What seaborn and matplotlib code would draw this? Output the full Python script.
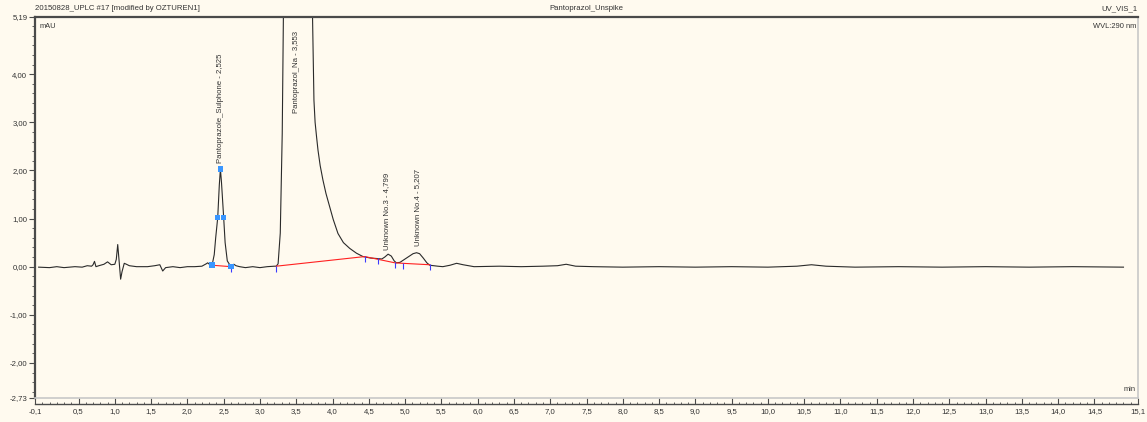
import numpy as np
import pandas as pd
import matplotlib
matplotlib.use("Agg")
import matplotlib.pyplot as plt
import seaborn as sns
from matplotlib.ticker import FixedLocator, FuncFormatter

# ---------------- data ----------------
time_min = [-0.05, 0.10, 0.20, 0.30, 0.45, 0.55, 0.62, 0.68, 0.70, 0.72, 0.74, 0.78,
            0.85, 0.90, 0.95, 1.00, 1.02, 1.04, 1.06, 1.08, 1.10, 1.13, 1.16, 1.20,
            1.30, 1.45, 1.55, 1.62, 1.66, 1.70, 1.80, 1.90, 2.00, 2.10, 2.20, 2.26,
            2.28, 2.31, 2.34, 2.37, 2.39, 2.418, 2.44, 2.455, 2.47, 2.50, 2.52, 2.55,
            2.60, 2.64, 2.67, 2.72, 2.80, 2.90, 3.00, 3.10, 3.20, 3.225, 3.25, 3.28,
            3.307, 3.325, 3.38, 3.52, 3.66, 3.72, 3.744, 3.76, 3.78, 3.80, 3.83,
            3.868, 3.91, 3.96, 4.01, 4.075, 4.15, 4.237, 4.33, 4.42, 4.52, 4.606,
            4.68, 4.72, 4.766, 4.81, 4.85, 4.88, 4.93, 4.98, 5.06, 5.11, 5.158,
            5.20, 5.25, 5.30, 5.34, 5.45, 5.52, 5.62, 5.71, 5.80, 5.95, 6.30, 6.60,
            6.90, 7.10, 7.22, 7.35, 7.60, 8.00, 8.50, 9.00, 9.50, 10.00, 10.40,
            10.60, 10.80, 11.20, 11.80, 12.40, 13.00, 13.60, 14.20, 14.90]
signal_mau = [-0.01, -0.02, 0.00, -0.02, 0.00, -0.01, 0.02, 0.01, 0.04, 0.11, 0.00, 0.02,
              0.05, 0.10, 0.04, 0.05, 0.15, 0.46, 0.10, -0.26, -0.10, 0.07, 0.05, 0.02,
              0.00, 0.00, 0.02, 0.04, -0.09, -0.02, 0.00, -0.02, 0.00, 0.00, 0.01, 0.06,
              0.08, 0.04, 0.03, 0.25, 0.60, 1.02, 1.70, 2.03, 1.75, 1.02, 0.50, 0.12,
              0.00, 0.05, 0.02, 0.00, -0.02, 0.00, -0.02, 0.00, 0.01, 0.01, 0.06, 0.70,
              2.77, 5.50, 12.0, 20.0, 12.0, 5.60, 3.46, 3.00, 2.70, 2.42, 2.10,
              1.80, 1.52, 1.25, 0.98, 0.69, 0.50, 0.38, 0.28, 0.21, 0.18, 0.17,
              0.16, 0.20, 0.26, 0.22, 0.12, 0.08, 0.09, 0.14, 0.22, 0.27, 0.29,
              0.27, 0.18, 0.08, 0.03, 0.01, 0.00, 0.03, 0.07, 0.04, 0.00, 0.01, 0.00,
              0.01, 0.02, 0.05, 0.01, 0.00, -0.01, 0.00, -0.01, 0.00, -0.01, 0.01,
              0.04, 0.01, -0.01, 0.00, -0.01, 0.00, -0.01, 0.00, -0.01]

marker_t = [2.34, 2.418, 2.455, 2.50, 2.60]
marker_v = [0.03, 1.02, 2.03, 1.02, 0.00]

baseline1_t = [2.34, 2.60]
baseline1_v = [0.03, 0.00]
baseline2_t = [3.225, 4.444, 4.86, 4.965, 5.34]
baseline2_v = [0.01, 0.21, 0.08, 0.07, 0.04]

delim_t = [2.60, 3.225, 4.444, 4.62, 4.86, 4.965, 5.34]
delim_v = [0.00, 0.01, 0.21, 0.16, 0.08, 0.07, 0.04]

peak_labels = ["Pantoprazole_Sulphone - 2,525", "Pantoprazol_Na - 3,553",
               "Unknown No.3 - 4,799", "Unknown No.4 - 5,207"]
label_t = [2.455, 3.505, 4.748, 5.176]
label_v = [2.15, 3.19, 0.345, 0.43]

x_major = [-0.1, 0.5, 1.0, 1.5, 2.0, 2.5, 3.0, 3.5, 4.0, 4.5, 5.0, 5.5, 6.0, 6.5, 7.0,
           7.5, 8.0, 8.5, 9.0, 9.5, 10.0, 10.5, 11.0, 11.5, 12.0, 12.5, 13.0, 13.5,
           14.0, 14.5, 15.1]
y_major = [5.19, 4.0, 3.0, 2.0, 1.0, 0.0, -1.0, -2.0, -2.73]

# ---------------- figure ----------------
BG = "#FFFAEF"
W, H = 1147, 422
fig = plt.figure(figsize=(W / 100, H / 100), dpi=100, facecolor=BG)
ax = fig.add_axes([35 / W, 1 - 398 / H, (1138 - 35) / W, (398 - 17) / H])
ax.set_facecolor(BG)
FONT = ["Liberation Sans", "DejaVu Sans"]
TXT = "#333333"

df = pd.DataFrame({"t": time_min, "v": signal_mau})
sns.lineplot(data=df, x="t", y="v", ax=ax, color="#2a2a2a", linewidth=0.8,
             sort=False, estimator=None)

sns.lineplot(x=baseline1_t, y=baseline1_v, ax=ax, color="#ff2020", linewidth=0.8,
             sort=False, estimator=None)
sns.lineplot(x=baseline2_t, y=baseline2_v, ax=ax, color="#ff2020", linewidth=0.8,
             sort=False, estimator=None)

ax.scatter(delim_t, [v - 0.05 for v in delim_v], marker="|", s=18, color="#3b3bff",
           linewidths=0.8, zorder=4)
sns.scatterplot(x=marker_t, y=marker_v, ax=ax, marker="s", s=16, color="#3a96ff",
                edgecolor="none", zorder=5)

for lab, t, v in zip(peak_labels, label_t, label_v):
    ax.text(t, v, lab, rotation=90, ha="center", va="bottom", fontsize=5.6,
            family=FONT, color=TXT)

ax.set_xlim(-0.1, 15.1)
ax.set_ylim(-2.73, 5.19)
ax.set_xlabel("")
ax.set_ylabel("")

# spines / frame
for s in ["top", "left"]:
    ax.spines[s].set_color("#4a4a4a")
    ax.spines[s].set_linewidth(1.6)
ax.spines["right"].set_color("#c8c8c8")
ax.spines["right"].set_linewidth(1.2)
ax.spines["bottom"].set_position(("outward", 4.5))
ax.spines["bottom"].set_color("#4a4a4a")
ax.spines["bottom"].set_linewidth(1.0)
ax.axhline(-2.73, color="#c8c8c8", linewidth=1.2, clip_on=False, zorder=6)

# ticks
ax.xaxis.set_major_locator(FixedLocator(x_major))
ax.xaxis.set_minor_locator(FixedLocator(list(np.arange(0.0, 15.05, 0.1))))
ax.xaxis.set_major_formatter(FuncFormatter(lambda v, p: f"{v:.1f}".replace(".", ",")))
ax.yaxis.set_major_locator(FixedLocator(y_major))
ax.yaxis.set_minor_locator(FixedLocator(list(np.arange(-2.6, 5.1, 0.2))))
ax.yaxis.set_major_formatter(FuncFormatter(lambda v, p: f"{v:.2f}".replace(".", ",")))

ax.tick_params(axis="x", which="major", direction="in", length=4, width=0.8,
               color="#4a4a4a", labelsize=5.6, labelcolor=TXT, pad=3)
ax.tick_params(axis="x", which="minor", direction="in", length=1.5, width=0.6,
               color="#4a4a4a")
ax.tick_params(axis="y", which="major", direction="out", length=4, width=0.8,
               color="#4a4a4a", labelsize=5.6, labelcolor=TXT, pad=1.5)
ax.tick_params(axis="y", which="minor", direction="out", length=2, width=0.6,
               color="#4a4a4a")
for lbl in ax.get_xticklabels() + ax.get_yticklabels():
    lbl.set_family(FONT)

# texts
fig.text(35 / W, 1 - 9 / H, "20150828_UPLC #17 [modified by OZTUREN1]", ha="left",
         va="center", fontsize=5.6, family=FONT, color=TXT)
fig.text(586 / W, 1 - 9 / H, "Pantoprazol_Unspike", ha="center", va="center",
         fontsize=5.6, family=FONT, color=TXT)
fig.text(1138 / W, 1 - 9 / H, "UV_VIS_1", ha="right", va="center", fontsize=5.6,
         family=FONT, color=TXT)
ax.text(0.004, 0.985, "mAU", transform=ax.transAxes, ha="left", va="top",
        fontsize=5.4, family=FONT, color=TXT)
ax.text(0.998, 0.985, "WVL:290 nm", transform=ax.transAxes, ha="right", va="top",
        fontsize=5.4, family=FONT, color=TXT)
ax.text(0.998, 0.012, "min", transform=ax.transAxes, ha="right", va="bottom",
        fontsize=5.4, family=FONT, color=TXT)

fig.savefig("out.png", dpi=100, facecolor=BG)
